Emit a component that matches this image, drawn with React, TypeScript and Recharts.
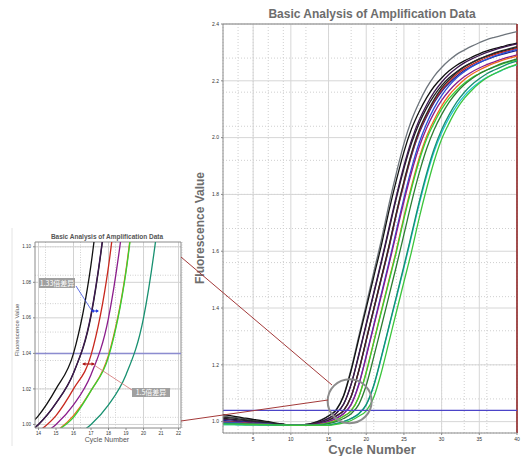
import React from "react";
import {
  LineChart,
  Line,
  XAxis,
  YAxis,
  CartesianGrid,
  ReferenceLine,
  ReferenceDot,
} from "recharts";

// cycle numbers 1..40
const cycles = [
  1, 2, 3, 4, 5, 6, 7, 8, 9, 10, 11, 12, 13, 14, 15, 16, 17, 18, 19, 20,
  21, 22, 23, 24, 25, 26, 27, 28, 29, 30, 31, 32, 33, 34, 35, 36, 37, 38, 39, 40,
];

// fluorescence per well
const wellGray = [
  1.020, 1.016, 1.013, 1.009, 1.005, 1.002, 0.998, 0.994, 0.991, 0.987,
  0.987, 0.990, 0.996, 1.006, 1.021, 1.042, 1.093, 1.186, 1.299, 1.412,
  1.526, 1.639, 1.763, 1.876, 1.979, 2.061, 2.123, 2.175, 2.216, 2.247,
  2.272, 2.293, 2.308, 2.322, 2.334, 2.345, 2.353, 2.360, 2.367, 2.373,
];
const wellBlackA = [
  1.025, 1.021, 1.017, 1.012, 1.008, 1.004, 1.000, 0.995, 0.991, 0.987,
  0.987, 0.990, 0.996, 1.005, 1.020, 1.040, 1.090, 1.180, 1.290, 1.400,
  1.510, 1.620, 1.740, 1.850, 1.950, 2.030, 2.090, 2.140, 2.180, 2.210,
  2.235, 2.255, 2.270, 2.283, 2.295, 2.305, 2.313, 2.320, 2.327, 2.333,
];
const wellBlackB = [
  1.012, 1.009, 1.006, 1.004, 1.001, 0.998, 0.995, 0.993, 0.990, 0.987,
  0.987, 0.988, 0.993, 1.000, 1.012, 1.029, 1.061, 1.131, 1.232, 1.341,
  1.450, 1.559, 1.673, 1.787, 1.891, 1.980, 2.049, 2.104, 2.148, 2.183,
  2.211, 2.232, 2.250, 2.264, 2.276, 2.287, 2.296, 2.304, 2.311, 2.317,
];
const wellPlum = [
  1.008, 1.006, 1.003, 1.001, 0.999, 0.996, 0.994, 0.992, 0.989, 0.987,
  0.987, 0.988, 0.993, 1.000, 1.012, 1.029, 1.062, 1.132, 1.235, 1.345,
  1.455, 1.565, 1.680, 1.795, 1.900, 1.990, 2.060, 2.115, 2.160, 2.195,
  2.223, 2.245, 2.263, 2.277, 2.289, 2.300, 2.309, 2.317, 2.324, 2.330,
];
const wellNavy = [
  1.004, 1.002, 1.000, 0.998, 0.996, 0.995, 0.993, 0.991, 0.989, 0.987,
  0.987, 0.987, 0.990, 0.996, 1.005, 1.019, 1.039, 1.088, 1.177, 1.285,
  1.394, 1.502, 1.610, 1.729, 1.837, 1.936, 2.014, 2.073, 2.123, 2.162,
  2.192, 2.216, 2.236, 2.251, 2.264, 2.275, 2.285, 2.293, 2.300, 2.307,
];
const wellRed = [
  1.000, 0.999, 0.997, 0.996, 0.994, 0.993, 0.991, 0.990, 0.988, 0.987,
  0.987, 0.987, 0.990, 0.996, 1.005, 1.020, 1.039, 1.089, 1.178, 1.287,
  1.396, 1.505, 1.614, 1.732, 1.841, 1.940, 2.020, 2.079, 2.128, 2.168,
  2.198, 2.223, 2.242, 2.257, 2.270, 2.282, 2.292, 2.300, 2.307, 2.314,
];
const wellBlackC = [
  1.016, 1.013, 1.010, 1.006, 1.003, 1.000, 0.997, 0.993, 0.990, 0.987,
  0.987, 0.987, 0.990, 0.996, 1.005, 1.020, 1.040, 1.089, 1.179, 1.288,
  1.398, 1.507, 1.617, 1.736, 1.846, 1.945, 2.025, 2.084, 2.134, 2.174,
  2.204, 2.229, 2.249, 2.264, 2.277, 2.288, 2.298, 2.306, 2.313, 2.320,
];
const wellBlue = [
  0.998, 0.997, 0.996, 0.994, 0.993, 0.992, 0.991, 0.989, 0.988, 0.987,
  0.987, 0.987, 0.988, 0.993, 1.000, 1.012, 1.029, 1.061, 1.131, 1.232,
  1.341, 1.450, 1.559, 1.673, 1.787, 1.891, 1.980, 2.049, 2.104, 2.148,
  2.183, 2.211, 2.232, 2.250, 2.264, 2.276, 2.287, 2.296, 2.304, 2.311,
];
const wellPurple = [
  0.995, 0.994, 0.993, 0.992, 0.991, 0.991, 0.990, 0.989, 0.988, 0.987,
  0.987, 0.987, 0.988, 0.993, 1.000, 1.011, 1.028, 1.060, 1.128, 1.229,
  1.336, 1.443, 1.551, 1.663, 1.775, 1.877, 1.965, 2.033, 2.087, 2.131,
  2.165, 2.192, 2.214, 2.231, 2.245, 2.257, 2.267, 2.276, 2.284, 2.291,
];
const wellOrange = [
  0.993, 0.992, 0.992, 0.991, 0.990, 0.990, 0.989, 0.988, 0.988, 0.987,
  0.987, 0.987, 0.987, 0.990, 0.996, 1.005, 1.019, 1.039, 1.087, 1.175,
  1.282, 1.390, 1.497, 1.604, 1.721, 1.828, 1.926, 2.004, 2.062, 2.111,
  2.150, 2.179, 2.204, 2.223, 2.238, 2.251, 2.262, 2.272, 2.280, 2.287,
];
const wellLime = [
  0.990, 0.990, 0.989, 0.989, 0.989, 0.988, 0.988, 0.988, 0.987, 0.987,
  0.987, 0.987, 0.987, 0.990, 0.996, 1.004, 1.019, 1.038, 1.086, 1.173,
  1.279, 1.386, 1.492, 1.598, 1.714, 1.820, 1.916, 1.994, 2.051, 2.100,
  2.138, 2.167, 2.191, 2.211, 2.225, 2.238, 2.249, 2.259, 2.267, 2.273,
];
const wellForest = [
  0.992, 0.991, 0.991, 0.990, 0.990, 0.989, 0.989, 0.988, 0.988, 0.987,
  0.987, 0.987, 0.987, 0.988, 0.993, 1.000, 1.011, 1.028, 1.060, 1.128,
  1.228, 1.334, 1.441, 1.548, 1.659, 1.771, 1.873, 1.960, 2.028, 2.081,
  2.125, 2.159, 2.186, 2.207, 2.225, 2.238, 2.250, 2.261, 2.269, 2.277,
];
const wellCyan = [
  0.990, 0.990, 0.989, 0.989, 0.989, 0.988, 0.988, 0.988, 0.987, 0.987,
  0.987, 0.987, 0.987, 0.987, 0.988, 0.993, 1.000, 1.011, 1.027, 1.059,
  1.126, 1.225, 1.331, 1.436, 1.542, 1.652, 1.763, 1.864, 1.950, 2.017,
  2.070, 2.113, 2.147, 2.174, 2.195, 2.212, 2.225, 2.237, 2.248, 2.256,
];
const wellTeal = [
  0.995, 0.994, 0.993, 0.992, 0.991, 0.991, 0.990, 0.989, 0.988, 0.987,
  0.987, 0.987, 0.987, 0.987, 0.988, 0.993, 1.000, 1.011, 1.028, 1.060,
  1.128, 1.228, 1.334, 1.441, 1.548, 1.659, 1.771, 1.873, 1.960, 2.028,
  2.081, 2.125, 2.159, 2.186, 2.207, 2.225, 2.238, 2.250, 2.261, 2.269,
];
const wellGreen = [
  0.992, 0.991, 0.991, 0.990, 0.990, 0.989, 0.989, 0.988, 0.988, 0.987,
  0.987, 0.987, 0.987, 0.987, 0.987, 0.990, 0.996, 1.004, 1.019, 1.038,
  1.086, 1.173, 1.279, 1.386, 1.492, 1.598, 1.714, 1.820, 1.916, 1.994,
  2.051, 2.100, 2.138, 2.167, 2.191, 2.211, 2.225, 2.238, 2.249, 2.259,
];

const threshold = 1.04;
const mainXTicks = [5, 10, 15, 20, 25, 30, 35, 40];
const mainYTicks = [1.0, 1.2, 1.4, 1.6, 1.8, 2.0, 2.2, 2.4];
const zoomXTicks = [14, 15, 16, 17, 18, 19, 20, 21, 22];
const zoomYTicks = [1.0, 1.02, 1.04, 1.06, 1.08, 1.1];

// [key, values, colour, shown in the zoomed panel]
const wells: [string, number[], string, boolean][] = [
  ["gray", wellGray, "#6e757c", false],
  ["blackA", wellBlackA, "#111111", true],
  ["blackB", wellBlackB, "#1e1e1e", true],
  ["plum", wellPlum, "#3d1850", true],
  ["navy", wellNavy, "#1c2590", false],
  ["red", wellRed, "#c8281e", true],
  ["blackC", wellBlackC, "#2a2a2a", false],
  ["blue", wellBlue, "#2b4fd6", false],
  ["purple", wellPurple, "#8b1c8b", true],
  ["orange", wellOrange, "#f06a1c", true],
  ["lime", wellLime, "#34d234", true],
  ["forest", wellForest, "#2e7d32", false],
  ["cyan", wellCyan, "#1fc4d4", false],
  ["teal", wellTeal, "#179070", true],
  ["green", wellGreen, "#3cc43c", false],
];

const data = cycles.map((c, i) => {
  const row: Record<string, number> = { cycle: c };
  wells.forEach(([k, v]) => (row[k] = v[i]));
  return row;
});

const range = (a: number, b: number, step: number) => {
  const out: number[] = [];
  for (let v = a; v <= b + 1e-9; v += step) out.push(+v.toFixed(4));
  return out;
};

const font = "'Liberation Sans', Arial, sans-serif";
const cjk = "'Noto Sans CJK SC', sans-serif";

function MainChart() {
  return (
    <LineChart
      width={522}
      height={456}
      data={data}
      margin={{ top: 24, right: 5, bottom: 11, left: 203 }}
    >
      <CartesianGrid
        stroke="#cfcfcf"
        strokeDasharray="1 2"
        verticalValues={range(1, 40, 1)}
        horizontalValues={range(0.96, 2.4, 0.04)}
      />
      <CartesianGrid
        stroke="#d6d6d6"
        verticalValues={mainXTicks}
        horizontalValues={mainYTicks}
      />
      <XAxis
        type="number"
        dataKey="cycle"
        domain={[1, 40]}
        ticks={mainXTicks}
        height={12}
        tickSize={2}
        tick={{ fontSize: 5, fill: "#333", fontFamily: font }}
        axisLine={{ stroke: "#8a8a8a" }}
        tickLine={{ stroke: "#8a8a8a" }}
      />
      <YAxis
        type="number"
        domain={[0.96, 2.4]}
        ticks={mainYTicks}
        allowDataOverflow
        width={20}
        tickSize={2}
        tickFormatter={(v: number) => v.toFixed(1)}
        tick={{ fontSize: 5, fill: "#333", fontFamily: font }}
        axisLine={{ stroke: "#8a8a8a" }}
        tickLine={{ stroke: "#8a8a8a" }}
      />
      <ReferenceLine y={2.4} stroke="#8a8a8a" />
      <ReferenceLine x={40} stroke="#8b1a1a" strokeWidth={1.5} />
      {wells.map(([k, , color]) => (
        <Line
          key={k}
          dataKey={k}
          type="monotone"
          stroke={color}
          strokeWidth={1.3}
          dot={false}
          isAnimationActive={false}
        />
      ))}
      <ReferenceLine y={threshold} stroke="#4b44c8" strokeWidth={1.2} />
      <ReferenceDot
        x={17.8}
        y={1.072}
        r={22}
        fill="none"
        fillOpacity={0}
        stroke="#8c8c8c"
        strokeWidth={2}
      />
    </LineChart>
  );
}

function ZoomChart() {
  return (
    <LineChart
      width={190}
      height={456}
      data={data}
      margin={{ top: 242, right: 9, bottom: 18, left: 20 }}
      style={{ background: "transparent" }}
    >
      <CartesianGrid
        stroke="#d0d0d0"
        strokeDasharray="1 1.5"
        verticalValues={range(13.8, 22.2, 0.2)}
        horizontalValues={range(1.0, 1.1, 0.004)}
      />
      <CartesianGrid
        stroke="#d2d2d2"
        verticalValues={zoomXTicks}
        horizontalValues={zoomYTicks}
      />
      <XAxis
        type="number"
        dataKey="cycle"
        domain={[13.8, 22.14]}
        allowDataOverflow
        ticks={zoomXTicks}
        height={10}
        tickSize={2}
        tick={{ fontSize: 4.5, fill: "#333", fontFamily: font }}
        axisLine={{ stroke: "#8a8a8a" }}
        tickLine={{ stroke: "#8a8a8a" }}
      />
      <YAxis
        type="number"
        domain={[0.998, 1.1027]}
        allowDataOverflow
        ticks={zoomYTicks}
        width={15}
        tickSize={2}
        tickFormatter={(v: number) => v.toFixed(2)}
        tick={{ fontSize: 4.5, fill: "#333", fontFamily: font }}
        axisLine={{ stroke: "#8a8a8a" }}
        tickLine={{ stroke: "#8a8a8a" }}
      />
      <ReferenceLine y={1.1027} stroke="#8a8a8a" />
      <ReferenceLine x={22.14} stroke="#8a8a8a" />
      <ReferenceLine y={threshold} stroke="#8c8cd0" strokeWidth={1.5} />
      {wells
        .filter((w) => w[3])
        .map(([k, , color]) => (
          <Line
            key={k}
            dataKey={k}
            type="monotone"
            stroke={color}
            strokeWidth={1.3}
            dot={false}
            isAnimationActive={false}
          />
        ))}
    </LineChart>
  );
}

function Overlay() {
  return (
    <svg
      width={522}
      height={456}
      style={{ position: "absolute", left: 0, top: 0, pointerEvents: "none" }}
    >
      <line x1={12} y1={228} x2={12} y2={446} stroke="#e4e4e4" />
      {/* titles and axis labels */}
      <text x={372} y={18} textAnchor="middle" fontFamily={font} fontWeight="bold" fontSize={12} fill="#6d6d6d">
        Basic Analysis of Amplification Data
      </text>
      <text x={372} y={454} textAnchor="middle" fontFamily={font} fontWeight="bold" fontSize={13} fill="#6d6d6d">
        Cycle Number
      </text>
      <text
        transform="translate(204,228) rotate(-90)"
        textAnchor="middle"
        fontFamily={font}
        fontWeight="bold"
        fontSize={12}
        fill="#6d6d6d"
      >
        Fluorescence Value
      </text>
      <text x={107} y={239} textAnchor="middle" fontFamily={font} fontWeight="bold" fontSize={6.5} fill="#555">
        Basic Analysis of Amplification Data
      </text>
      <text x={107} y={442} textAnchor="middle" fontFamily={font} fontSize={7} fill="#555">
        Cycle Number
      </text>
      <text
        transform="translate(19,330) rotate(-90)"
        textAnchor="middle"
        fontFamily={font}
        fontSize={6}
        fill="#555"
      >
        Fluorescence Value
      </text>
      {/* connectors from the zoomed panel to the magnifier */}
      <line x1={181} y1={257} x2={332} y2={385} stroke="#a33a3a" strokeWidth={1} />
      <line x1={181} y1={421} x2={328} y2={400} stroke="#a33a3a" strokeWidth={1} />
      {/* 1.33 fold annotation */}
      <line x1={76} y1={286} x2={92} y2={311} stroke="#3a4ee0" strokeWidth={0.8} />
      <line x1={92} y1={311} x2={98} y2={311} stroke="#2a3ee0" strokeWidth={1.2} />
      <path d="M91,311 L94,309.3 L94,312.7 Z" fill="#2a3ee0" />
      <path d="M99,311 L96,309.3 L96,312.7 Z" fill="#2a3ee0" />
      <rect x={39} y={278} width={36} height={10} fill="#a0a0a0" />
      <text x={57} y={285.8} textAnchor="middle" fontFamily={cjk} fontSize={7} fill="#fff">
        1.33倍差异
      </text>
      {/* 1.5 fold annotation */}
      <line x1={94} y1={365} x2={132} y2={390} stroke="#d07070" strokeWidth={0.8} />
      <line x1={83} y1={364} x2={94} y2={364} stroke="#b01818" strokeWidth={1.2} />
      <path d="M82,364 L85.5,362.2 L85.5,365.8 Z" fill="#b01818" />
      <path d="M95,364 L91.5,362.2 L91.5,365.8 Z" fill="#b01818" />
      <rect x={132} y={388} width={38} height={9} fill="#a0a0a0" />
      <text x={151} y={395.2} textAnchor="middle" fontFamily={cjk} fontSize={7} fill="#fff">
        1.5倍差异
      </text>
    </svg>
  );
}

export default function App() {
  return (
    <div
      style={{
        position: "absolute",
        left: 0,
        top: 0,
        width: 522,
        height: 456,
        background: "#fff",
        fontFamily: font,
      }}
    >
      <div style={{ position: "absolute", left: 0, top: 0 }}>
        <MainChart />
      </div>
      <div style={{ position: "absolute", left: 0, top: 0 }}>
        <ZoomChart />
      </div>
      <Overlay />
    </div>
  );
}
